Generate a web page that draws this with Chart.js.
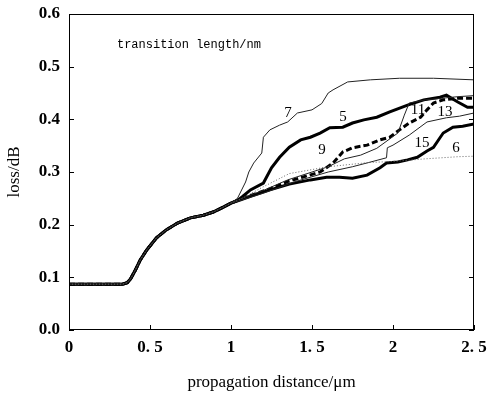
<!DOCTYPE html>
<html>
<head>
<meta charset="utf-8">
<script src="https://cdn.jsdelivr.net/npm/chart.js@4/dist/chart.umd.min.js"></script>
<style>
  html, body { margin: 0; padding: 0; background: #fff; }
  #wrap { width: 487px; height: 402px; }
</style>
</head>
<body>
<div id="wrap"><canvas id="lossChart" width="487" height="402"></canvas></div>
<script>
// shared start of all curves (0 .. 1.0 um)
const baseX = [0, 0.33, 0.36, 0.38, 0.41, 0.44, 0.48, 0.54, 0.6, 0.67, 0.75, 0.83, 0.89, 0.95, 1.0];
const baseY = [0.087, 0.087, 0.09, 0.097, 0.114, 0.133, 0.152, 0.175, 0.19, 0.203, 0.213, 0.218, 0.224, 0.233, 0.241];

// transition length 7 nm
const x7 = [1.04, 1.09, 1.11, 1.14, 1.19, 1.2, 1.24, 1.3, 1.35, 1.41, 1.5, 1.56, 1.6, 1.63, 1.72, 1.86, 2.04, 2.25, 2.5];
const y7 = [0.25, 0.281, 0.3, 0.317, 0.336, 0.366, 0.38, 0.389, 0.395, 0.412, 0.418, 0.43, 0.45, 0.456, 0.471, 0.475, 0.478, 0.478, 0.475];

// 5 nm
const x5 = [1.04, 1.07, 1.12, 1.2, 1.25, 1.3, 1.36, 1.43, 1.49, 1.55, 1.61, 1.69, 1.75, 1.82, 1.9, 1.98, 2.09, 2.19, 2.29, 2.33, 2.4, 2.46, 2.5];
const y5 = [0.246, 0.253, 0.266, 0.279, 0.308, 0.328, 0.347, 0.361, 0.366, 0.374, 0.384, 0.385, 0.393, 0.399, 0.404, 0.414, 0.427, 0.437, 0.442, 0.446, 0.433, 0.423, 0.423];

// 9 nm
const x9 = [1.07, 1.24, 1.36, 1.44, 1.55, 1.63, 1.69, 1.75, 1.84, 1.92, 1.98, 2.04, 2.1, 2.17, 2.21, 2.25, 2.31, 2.4, 2.5];
const y9 = [0.25, 0.268, 0.283, 0.29, 0.3, 0.317, 0.338, 0.346, 0.351, 0.361, 0.366, 0.38, 0.393, 0.404, 0.418, 0.431, 0.437, 0.44, 0.44];

// 11 nm
const x11 = [1.05, 1.2, 1.35, 1.5, 1.6, 1.7, 1.8, 1.9, 2.03, 2.07, 2.1, 2.2, 2.3, 2.4, 2.5];
const y11 = [0.248, 0.265, 0.285, 0.3, 0.31, 0.325, 0.332, 0.345, 0.374, 0.408, 0.431, 0.437, 0.44, 0.443, 0.445];

// 13 nm
const x13 = [1.05, 1.2, 1.4, 1.6, 1.75, 1.85, 1.96, 1.965, 2.0, 2.1, 2.21, 2.33, 2.41, 2.5];
const y13 = [0.245, 0.26, 0.282, 0.3, 0.31, 0.318, 0.327, 0.346, 0.351, 0.37, 0.395, 0.403, 0.406, 0.412];

// 15 nm
const x15 = [1.06, 1.12, 1.24, 1.36, 1.49, 1.59, 1.67, 1.75, 1.84, 1.92, 1.96, 2.03, 2.09, 2.15, 2.21, 2.25, 2.29, 2.31, 2.37, 2.43, 2.5];
const y15 = [0.247, 0.254, 0.266, 0.277, 0.285, 0.29, 0.29, 0.288, 0.294, 0.308, 0.317, 0.319, 0.323, 0.328, 0.34, 0.347, 0.365, 0.374, 0.385, 0.387, 0.391];

// 6 nm
const x6 = [1.05, 1.2, 1.36, 1.6, 1.85, 2.0, 2.2, 2.4, 2.5];
const y6 = [0.247, 0.272, 0.297, 0.31, 0.318, 0.32, 0.325, 0.329, 0.33];

// curve labels, in data units
const labelText = ['7', '5', '9', '11', '13', '15', '6'];
const labelX = [1.352, 1.691, 1.562, 2.154, 2.321, 2.179, 2.389];
const labelY = [0.412, 0.404, 0.342, 0.418, 0.414, 0.355, 0.346];

const xTicks = [0, 0.5, 1, 1.5, 2, 2.5];
const yTicks = [0, 0.1, 0.2, 0.3, 0.4, 0.5, 0.6];

const serif = '"Liberation Serif", "Times New Roman", serif';

function buildPoints(xs, ys) {
    const pts = baseX.map((x, i) => ({ x: x, y: baseY[i] }));
    return pts.concat(xs.map((x, i) => ({ x: x, y: ys[i] })));
}

function curve(label, xs, ys, width, color, dash) {
    return {
        label: label,
        data: buildPoints(xs, ys),
        showLine: true,
        borderColor: color,
        borderWidth: width,
        borderDash: dash || [],
        pointRadius: 0,
        tension: 0,
        fill: false
    };
}

// box around plot + inward ticks + text labels
const decorPlugin = {
    id: 'decor',
    afterDraw(chart) {
        const ctx = chart.ctx;
        const area = chart.chartArea;
        const xs = chart.scales.x;
        const ys = chart.scales.y;
        ctx.save();
        ctx.strokeStyle = '#000';
        ctx.lineWidth = 1;
        ctx.strokeRect(area.left + 0.5, area.top + 0.5, area.right - area.left - 1, area.bottom - area.top - 1);
        ctx.beginPath();
        xTicks.forEach(v => {
            const px = Math.round(xs.getPixelForValue(v)) + 0.5;
            ctx.moveTo(px, area.bottom);
            ctx.lineTo(px, area.bottom - 5);
        });
        yTicks.forEach(v => {
            const py = Math.round(ys.getPixelForValue(v)) + 0.5;
            ctx.moveTo(area.left, py);
            ctx.lineTo(area.left + 5, py);
            ctx.moveTo(area.right, py);
            ctx.lineTo(area.right - 5, py);
        });
        ctx.stroke();

        ctx.fillStyle = '#000';
        ctx.textAlign = 'center';
        ctx.textBaseline = 'middle';
        ctx.font = '15px ' + serif;
        labelText.forEach((t, i) => {
            ctx.fillText(t, xs.getPixelForValue(labelX[i]), ys.getPixelForValue(labelY[i]));
        });

        ctx.textAlign = 'left';
        ctx.font = '12px "Liberation Mono", "DejaVu Sans Mono", monospace';
        ctx.fillText('transition length/nm', xs.getPixelForValue(0.296), ys.getPixelForValue(0.541));
        ctx.restore();
    }
};

const chartCtx = document.getElementById('lossChart').getContext('2d');
new Chart(chartCtx, {
    type: 'scatter',
    data: {
        datasets: [
            curve('6', x6, y6, 1, '#666', [1, 2]),
            curve('13', x13, y13, 1, '#222'),
            curve('11', x11, y11, 1, '#222'),
            curve('7', x7, y7, 1, '#222'),
            curve('15', x15, y15, 3, '#000'),
            curve('9', x9, y9, 3, '#000', [6, 3]),
            curve('5', x5, y5, 3, '#000')
        ]
    },
    options: {
        responsive: false,
        animation: false,
        devicePixelRatio: 1,
        layout: { padding: { left: 4, right: 13, top: 14, bottom: 9 } },
        plugins: {
            legend: { display: false },
            tooltip: { enabled: false }
        },
        scales: {
            x: {
                type: 'linear',
                min: 0,
                max: 2.5,
                afterBuildTicks: (scale) => { scale.ticks = xTicks.map(v => ({ value: v })); },
                afterFit: (scale) => {
                    scale.height = 63;
                    scale.paddingLeft = 0;
                    scale.paddingRight = 0;
                },
                grid: { display: false, drawTicks: false },
                border: { display: false },
                ticks: {
                    color: '#000',
                    padding: 7,
                    maxRotation: 0,
                    font: { family: serif, size: 17, weight: 'bold' },
                    callback: (v) => Number.isInteger(v) ? String(v) : v.toFixed(1).replace('.', '. ')
                },
                title: {
                    display: true,
                    text: 'propagation distance/μm',
                    color: '#000',
                    padding: 0,
                    font: { family: serif, size: 17 }
                }
            },
            y: {
                min: 0,
                max: 0.6,
                afterBuildTicks: (scale) => { scale.ticks = yTicks.map(v => ({ value: v })); },
                afterFit: (scale) => {
                    scale.width = 65;
                    scale.paddingTop = 0;
                    scale.paddingBottom = 0;
                },
                grid: { display: false, drawTicks: false },
                border: { display: false },
                ticks: {
                    color: '#000',
                    padding: 9,
                    font: { family: serif, size: 17, weight: 'bold' },
                    callback: (v) => v.toFixed(1)
                },
                title: {
                    display: true,
                    text: 'loss/dB',
                    color: '#000',
                    padding: 0,
                    font: { family: serif, size: 17 }
                }
            }
        }
    },
    plugins: [decorPlugin]
});
</script>
</body>
</html>
